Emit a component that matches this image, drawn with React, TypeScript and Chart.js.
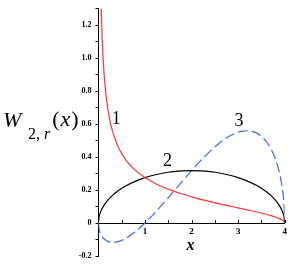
import React, { useEffect, useRef } from 'react';
import { Chart, registerables } from 'chart.js';

Chart.register(...registerables);

// Curve 1 (red)
const curve1X = [0.05, 0.06, 0.07, 0.08, 0.1, 0.12, 0.15, 0.2, 0.25, 0.3, 0.4, 0.5, 0.6, 0.7, 0.8, 1.0, 1.2, 1.4, 1.6, 1.8, 2.0, 2.2, 2.4, 2.6, 2.8, 3.0, 3.2, 3.4, 3.6, 3.7, 3.8, 3.9, 3.95, 3.98, 4.0];
const curve1Y = [1.415, 1.29, 1.1925, 1.114, 0.994, 0.905, 0.806, 0.694, 0.616, 0.559, 0.477, 0.421, 0.379, 0.3456, 0.318, 0.2757, 0.2431, 0.2169, 0.1949, 0.176, 0.1592, 0.144, 0.13, 0.1168, 0.1042, 0.0919, 0.0796, 0.0669, 0.0531, 0.0453, 0.0365, 0.0255, 0.0179, 0.0113, 0];

// Curve 2 (black)
const curve2X = [0, 0.01, 0.02, 0.05, 0.1, 0.15, 0.2, 0.3, 0.4, 0.5, 0.6, 0.8, 1.0, 1.2, 1.4, 1.6, 1.8, 2.0, 2.2, 2.4, 2.6, 2.8, 3.0, 3.2, 3.4, 3.5, 3.6, 3.7, 3.8, 3.85, 3.9, 3.95, 3.98, 3.99, 4.0];
const curve2Y = [0, 0.0318, 0.0449, 0.0707, 0.0994, 0.1209, 0.1387, 0.1677, 0.191, 0.2105, 0.2273, 0.2546, 0.2757, 0.2917, 0.3037, 0.3119, 0.3167, 0.3183, 0.3167, 0.3119, 0.3037, 0.2917, 0.2757, 0.2546, 0.2273, 0.2105, 0.191, 0.1677, 0.1387, 0.1209, 0.0994, 0.0707, 0.0449, 0.0318, 0];

// Curve 3 (blue dashed)
const curve3X = [0, 0.01, 0.02, 0.05, 0.1, 0.15, 0.2, 0.3, 0.4, 0.5, 0.6, 0.8, 1.0, 1.2, 1.4, 1.6, 1.8, 2.0, 2.2, 2.4, 2.6, 2.8, 3.0, 3.1, 3.2, 3.3, 3.4, 3.5, 3.6, 3.7, 3.8, 3.85, 3.9, 3.95, 3.98, 3.99, 4.0];
const curve3Y = [0, -0.0315, -0.044, -0.0672, -0.0895, -0.1028, -0.111, -0.1174, -0.1146, -0.1053, -0.0909, -0.0509, 0, 0.0583, 0.1215, 0.1871, 0.2534, 0.3183, 0.38, 0.4367, 0.4859, 0.5251, 0.5514, 0.5582, 0.5601, 0.5564, 0.5455, 0.5263, 0.4966, 0.4528, 0.3884, 0.3446, 0.2883, 0.2086, 0.1338, 0.0951, 0];

const curveLabels = ['1', '2', '3'];
const curveLabelAt = [
  [0.38, 0.63],
  [1.48, 0.375],
  [3.02, 0.62],
];

const xTickValues = [1, 2, 3, 4];
const yTickValues = [-0.2, 0, 0.2, 0.4, 0.6, 0.8, 1.0, 1.2];

const toPoints = (xs: number[], ys: number[]) => xs.map((x, i) => ({ x, y: ys[i] }));

const SERIF = '"Liberation Serif", "DejaVu Serif", serif';

const decorPlugin = {
  id: 'decor',
  afterDraw(chart: any) {
    const ctx = chart.ctx as CanvasRenderingContext2D;
    const xs = chart.scales.x;
    const ys = chart.scales.y;
    const y0 = ys.getPixelForValue(0);
    ctx.save();
    // x minor/major ticks pointing up
    ctx.strokeStyle = '#000';
    ctx.lineWidth = 1;
    ctx.beginPath();
    for (const t of xs.ticks) {
      if (t.value <= 0) continue;
      const px = Math.round(xs.getPixelForValue(t.value)) + 0.5;
      ctx.moveTo(px, Math.round(y0));
      ctx.lineTo(px, Math.round(y0) - 3);
    }
    ctx.stroke();

    // curve labels
    ctx.fillStyle = '#000';
    ctx.font = `18px ${SERIF}`;
    ctx.textAlign = 'center';
    ctx.textBaseline = 'middle';
    curveLabels.forEach((lab, i) => {
      ctx.fillText(lab, xs.getPixelForValue(curveLabelAt[i][0]), ys.getPixelForValue(curveLabelAt[i][1]));
    });

    // x axis title
    ctx.font = `italic bold 16px ${SERIF}`;
    ctx.textBaseline = 'alphabetic';
    ctx.fillText('x', 190.5, 250);

    // y axis title W_{2, r}(x)
    ctx.textAlign = 'left';
    let cx = 3;
    ctx.font = `italic 22px ${SERIF}`;
    ctx.fillText('W', cx, 127);
    cx = 28;
    ctx.font = `16px ${SERIF}`;
    ctx.fillText('2,', cx, 139);
    cx += ctx.measureText('2, ').width;
    ctx.font = `italic 16px ${SERIF}`;
    ctx.fillText('r', cx, 139);
    cx += ctx.measureText('r').width + 2;
    ctx.font = `22px ${SERIF}`;
    ctx.fillText('(', cx, 126);
    cx += ctx.measureText('(').width + 1;
    ctx.font = `italic 22px ${SERIF}`;
    ctx.fillText('x', cx, 126);
    cx += ctx.measureText('x').width + 1;
    ctx.font = `22px ${SERIF}`;
    ctx.fillText(')', cx, 126);
    ctx.restore();
  },
};

export default function App() {
  const ref = useRef<HTMLCanvasElement>(null);
  useEffect(() => {
    document.body.style.margin = '0';
    const canvas = ref.current!;
    const chart = new Chart(canvas, {
      type: 'line',
      data: {
        datasets: [
          {
            label: '1',
            data: toPoints(curve1X, curve1Y),
            borderColor: '#ff3535',
            borderWidth: 1.2,
            pointRadius: 0,
            cubicInterpolationMode: 'monotone',
            fill: false,
          },
          {
            label: '2',
            data: toPoints(curve2X, curve2Y),
            borderColor: '#000000',
            borderWidth: 1.2,
            pointRadius: 0,
            cubicInterpolationMode: 'monotone',
            fill: false,
          },
          {
            label: '3',
            data: toPoints(curve3X, curve3Y),
            borderColor: '#4466ff',
            borderWidth: 1.2,
            borderDash: [10, 4],
            pointRadius: 0,
            cubicInterpolationMode: 'monotone',
            fill: false,
          },
        ],
      },
      options: {
        responsive: false,
        animation: false,
        events: [],
        layout: { padding: { top: 3.5, bottom: 9, right: 6.3, left: 0 } },
        plugins: { legend: { display: false }, tooltip: { enabled: false } },
        scales: {
          x: {
            type: 'linear',
            min: 0,
            max: 4,
            position: { y: 0 } as any,
            afterFit: (s: any) => {
              s.height = 0;
            },
            border: { display: true, color: '#000', width: 1 },
            grid: { display: true, drawOnChartArea: false, drawTicks: false, color: 'rgba(0,0,0,0)' },
            ticks: {
              stepSize: 0.5,
              autoSkip: false,
              maxRotation: 0,
              padding: 3,
              color: '#000',
              font: { family: SERIF, size: 9, weight: 'bold' },
              callback: (v: any) => {
                const n = Number(v);
                return xTickValues.some((t) => Math.abs(t - n) < 1e-6) ? String(n) : '';
              },
            },
          },
          y: {
            type: 'linear',
            min: -0.2,
            max: 1.3,
            afterFit: (s: any) => {
              s.width = 98.5;
            },
            border: { display: true, color: '#000', width: 1 },
            grid: { display: true, drawOnChartArea: false, drawTicks: true, tickLength: 3, color: '#000' },
            ticks: {
              stepSize: 0.1,
              autoSkip: false,
              padding: 4,
              color: '#000',
              font: { family: SERIF, size: 8, weight: 'bold' },
              callback: (v: any) => {
                const n = Number(v);
                const hit = yTickValues.find((t) => Math.abs(t - n) < 1e-6);
                if (hit === undefined) return '';
                return hit === 0 ? '0' : hit.toFixed(1);
              },
            },
          },
        },
      },
      plugins: [decorPlugin],
    });
    return () => chart.destroy();
  }, []);
  return (
    <div style={{ width: 291, height: 265, position: 'relative' }}>
      <canvas ref={ref} width={291} height={265} style={{ display: 'block', width: 291, height: 265 }} />
    </div>
  );
}
